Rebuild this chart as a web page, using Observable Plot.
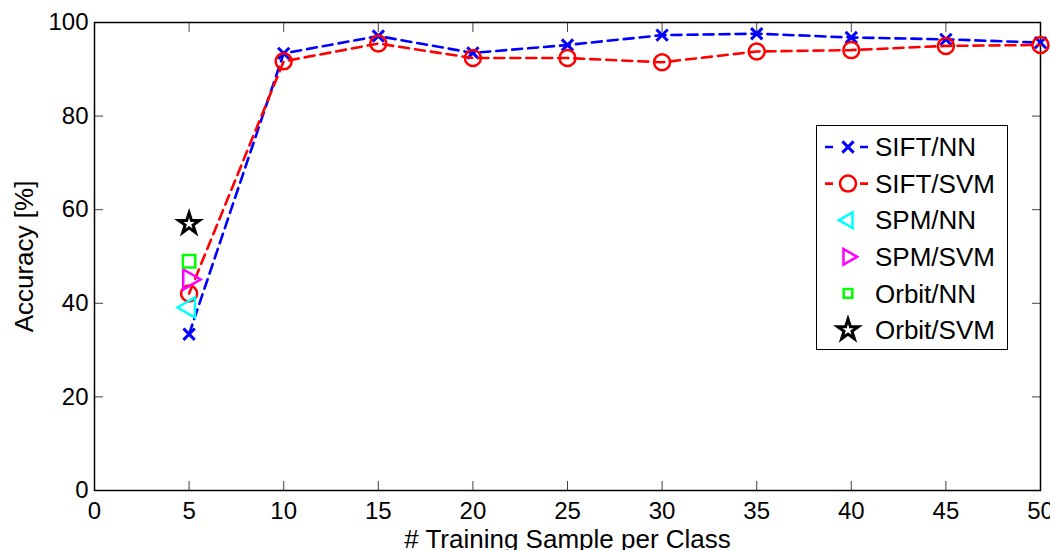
<!DOCTYPE html>
<html>
<head>
<meta charset="utf-8">
<script src="https://cdn.jsdelivr.net/npm/d3@7"></script>
<script src="https://cdn.jsdelivr.net/npm/@observablehq/plot@0.6"></script>
<style>
  html, body { margin: 0; padding: 0; background: white; }
  #chart { position: relative; width: 1050px; height: 550px; overflow: hidden; font-family: "Liberation Sans", Arial, Helvetica, sans-serif; }
  #legend { position: absolute; left: 816px; top: 125px; width: 190px; height: 223px; border: 1.5px solid black; background: white; }
</style>
</head>
<body>
<div id="chart"><div id="legend"></div></div>
<script>
// ---- data ----
const samples = [5, 10, 15, 20, 25, 30, 35, 40, 45, 50];
const siftNN  = [33.4, 93.4, 97.1, 93.5, 95.2, 97.3, 97.6, 96.8, 96.4, 95.7];
const siftSVM = [42.1, 91.7, 95.5, 92.4, 92.4, 91.5, 93.8, 94.1, 95.0, 95.2];
const singleX = 5;
const spmNN    = 39.1;
const spmSVM   = 45.1;
const orbitNN  = 49.0;
const orbitSVM = 57.0;
const xTicks = [0, 5, 10, 15, 20, 25, 30, 35, 40, 45, 50];
const yTicks = [0, 20, 40, 60, 80, 100];
const xLabel = "# Training Sample per Class";
const yLabel = "Accuracy [%]";
const seriesNames = ["SIFT/NN", "SIFT/SVM", "SPM/NN", "SPM/SVM", "Orbit/NN", "Orbit/SVM"];

// ---- tables ----
const nnRows  = samples.map((x, i) => ({x, y: siftNN[i]}));
const svmRows = samples.map((x, i) => ({x, y: siftSVM[i]}));

const font = "Liberation Sans, Arial, Helvetica, sans-serif";
const dash = "10,6";

const styles = {
  "SIFT/NN":  {symbol: "times",    r: 5.2, stroke: "#0000ff", strokeWidth: 3,   rotate: 0, line: true},
  "SIFT/SVM": {symbol: "circle",   r: 8,   stroke: "#ff0000", strokeWidth: 2.5, rotate: 0, line: true},
  "SPM/NN":   {symbol: "triangle", r: 7.5, stroke: "#00ffff", strokeWidth: 2.5, rotate: -90},
  "SPM/SVM":  {symbol: "triangle", r: 7.5, stroke: "#ff00ff", strokeWidth: 2.5, rotate: 90},
  "Orbit/NN": {symbol: "square",   r: 7.0, stroke: "#00ff00", strokeWidth: 2.5, rotate: 0},
  "Orbit/SVM":{symbol: "star",     r: 6.5, stroke: "#000000", strokeWidth: 3,   rotate: 0}
};

function dotOpts(name) {
  const s = styles[name];
  return {x: "x", y: "y", symbol: s.symbol, r: s.r, stroke: s.stroke, strokeWidth: s.strokeWidth, fill: "none", rotate: s.rotate};
}

const plot = Plot.plot({
  width: 1050,
  height: 550,
  marginLeft: 94,
  marginRight: 10,
  marginTop: 22,
  marginBottom: 60,
  style: {fontFamily: font, fontSize: "24px", background: "white", overflow: "visible"},
  x: {domain: [0, 50]},
  y: {domain: [0, 100]},
  marks: [
    Plot.axisX({ticks: xTicks, tickSize: -9, tickPadding: 20, label: null, fontSize: 24, stroke: "#444"}),
    Plot.axisX({anchor: "top", ticks: xTicks, tickSize: -9, tickFormat: () => "", label: null, stroke: "#444"}),
    Plot.axisY({ticks: yTicks, tickSize: -9, tickPadding: 15, label: null, fontSize: 24, stroke: "#444"}),
    Plot.axisY({anchor: "right", ticks: yTicks, tickSize: -9, tickFormat: () => "", label: null, stroke: "#444"}),
    Plot.axisX({ticks: [], label: xLabel, labelAnchor: "center", labelOffset: 57, labelArrow: "none", fontSize: 26}),
    Plot.axisY({ticks: [], label: yLabel, labelAnchor: "center", labelOffset: 80, labelArrow: "none", fontSize: 26}),
    Plot.frame({stroke: "black", strokeWidth: 1.5}),
    Plot.line(nnRows, {x: "x", y: "y", stroke: styles["SIFT/NN"].stroke, strokeWidth: 2.6, strokeDasharray: dash}),
    Plot.dot(nnRows, dotOpts("SIFT/NN")),
    Plot.line(svmRows, {x: "x", y: "y", stroke: styles["SIFT/SVM"].stroke, strokeWidth: 2.6, strokeDasharray: dash}),
    Plot.dot(svmRows, dotOpts("SIFT/SVM")),
    Plot.dot([{x: singleX, y: spmNN}], dotOpts("SPM/NN")),
    Plot.dot([{x: singleX, y: spmSVM}], dotOpts("SPM/SVM")),
    Plot.dot([{x: singleX, y: orbitNN}], dotOpts("Orbit/NN")),
    Plot.dot([{x: singleX, y: orbitSVM}], dotOpts("Orbit/SVM"))
  ]
});

const chart = document.getElementById("chart");
chart.insertBefore(plot, chart.firstChild);

// ---- legend ----
const symbolMap = {
  times: d3.symbolTimes, circle: d3.symbolCircle, triangle: d3.symbolTriangle2,
  square: d3.symbolSquare2, star: d3.symbolStar
};
const legend = d3.select("#legend");
const rowH = 36.6;
const lsvg = legend.append("svg")
  .attr("width", 190).attr("height", 223)
  .style("position", "absolute").style("left", 0).style("top", 0)
  .style("font-family", font);
seriesNames.forEach((name, i) => {
  const s = styles[name];
  const legendR = s.symbol === "square" ? 5.5 : s.r;
  const g = lsvg.append("g").attr("transform", `translate(0,${21 + i * rowH})`);
  if (s.line) {
    g.append("line").attr("x1", 8).attr("x2", 51).attr("y1", 0).attr("y2", 0)
      .attr("stroke", s.stroke).attr("stroke-width", 2.6).attr("stroke-dasharray", "8,27");
  }
  g.append("path")
    .attr("d", d3.symbol(symbolMap[s.symbol], Math.PI * legendR * legendR)())
    .attr("transform", `translate(31,0) rotate(${s.rotate})`)
    .attr("fill", "none").attr("stroke", s.stroke).attr("stroke-width", s.strokeWidth);
  g.append("text").attr("x", 58).attr("y", 0).attr("dy", "0.35em")
    .attr("font-size", 26).attr("fill", "black").text(name);
});
</script>
</body>
</html>
